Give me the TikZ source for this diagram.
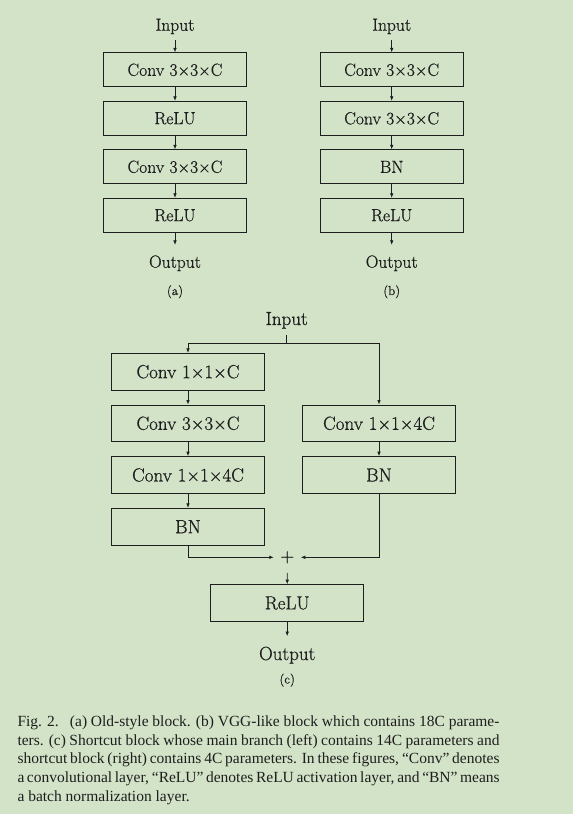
\documentclass[tikz,border=0pt]{standalone}
\usepackage{fontspec}
\newfontfamily\capfont{Liberation Serif}
\newfontfamily\dfont[FakeBold=0.7]{Latin Modern Roman}
\usetikzlibrary{arrows.meta}
\definecolor{bg}{HTML}{D3E3C8}
\definecolor{ink}{HTML}{1E1E1E}
\newcommand{\fsz}[1]{\dfont\fontsize{#1}{#1}\selectfont}
\begin{document}
\begin{tikzpicture}[x=1pt,y=-1pt,
  box/.style={draw=ink,line width=0.9pt,minimum width=143.4pt,minimum height=34pt,inner sep=0pt,font=\fsz{17.5},text=ink},
  cbox/.style={box,minimum width=152.7pt,minimum height=36.7pt,font=\fsz{19}},
  inlbl/.style={anchor=base,inner xsep=0pt,inner ysep=6pt,text=ink},
  outlbl/.style={anchor=base,inner xsep=0pt,inner ysep=10.4pt,text=ink},
  sublbl/.style={anchor=base,inner sep=0pt,text=ink,font=\fsz{13}},
  conn/.style={draw=ink,line width=0.7pt},
  arr/.style={conn,-{Latex[length=4.5pt,width=3.6pt]}}]
\fill[bg] (0,0) rectangle (573,814);
\useasboundingbox (0,0) rectangle (573,814);
% (a)
\node[inlbl,font=\fsz{17.5}] (ia) at (175,30.7) {Input};
\node[box] (a1) at (175,69.8) {Conv 3×3×C};
\node[box] (a2) at (175,118.3) {ReLU};
\node[box] (a3) at (175,166.8) {Conv 3×3×C};
\node[box] (a4) at (175,215.3) {ReLU};
\node[outlbl,font=\fsz{17.5}] (oa) at (175,267.7) {Output};
\node[sublbl] (la) at (175,295) {(a)};
\draw[arr] (ia) -- (a1);
\draw[arr] (a1) -- (a2);
\draw[arr] (a2) -- (a3);
\draw[arr] (a3) -- (a4);
\draw[arr] (a4) -- (oa);
% (b)
\node[inlbl,font=\fsz{17.5}] (ib) at (391.7,30.7) {Input};
\node[box] (b1) at (391.7,69.8) {Conv 3×3×C};
\node[box] (b2) at (391.7,118.3) {Conv 3×3×C};
\node[box] (b3) at (391.7,166.8) {BN};
\node[box] (b4) at (391.7,215.3) {ReLU};
\node[outlbl,font=\fsz{17.5}] (ob) at (391.7,267.7) {Output};
\node[sublbl] (lb) at (391.7,295) {(b)};
\draw[arr] (ib) -- (b1);
\draw[arr] (b1) -- (b2);
\draw[arr] (b2) -- (b3);
\draw[arr] (b3) -- (b4);
\draw[arr] (b4) -- (ob);
% (c)
\node[inlbl,font=\fsz{19}] (ic) at (286.7,325) {Input};
\coordinate (split) at (286.7,343.3);
\node[cbox] (c1) at (188,371.7) {Conv 1×1×C};
\node[cbox] (c2) at (188,423.3) {Conv 3×3×C};
\node[cbox] (c3) at (188,475) {Conv 1×1×4C};
\node[cbox] (c4) at (188,526.7) {BN};
\node[cbox] (r1) at (379,423.3) {Conv 1×1×4C};
\node[cbox] (r2) at (379,475) {BN};
\node[inner xsep=6.5pt,inner ysep=9.5pt,text=ink,font=\fsz{19}] (plus) at (287.3,557.3) {+};
\node[cbox] (relu) at (287.2,603) {ReLU};
\node[outlbl,font=\fsz{19}] (oc) at (287.2,660) {Output};
\node[sublbl] (lc) at (287.2,683.4) {(c)};
\draw[conn] (ic) -- (split);
\draw[arr] (split) -| (c1);
\draw[arr] (split) -| (r1);
\draw[arr] (c1) -- (c2);
\draw[arr] (c2) -- (c3);
\draw[arr] (c3) -- (c4);
\draw[arr] (r1) -- (r2);
\draw[arr] (c4) |- (plus);
\draw[arr] (r2) |- (plus);
\draw[arr] (plus) -- (relu);
\draw[arr] (relu) -- (oc);
% caption
\node[anchor=north west,inner sep=0pt,align=left,text=ink,font=\capfont\fontsize{15.5}{18.7}\selectfont] (cap) at (17.3,715.5)
{\hbox to 482pt{Fig. 2.\hspace{6pt} (a) Old-style block. (b) VGG-like block which contains 18C parame-}\\
\hbox to 482pt{ters. (c) Shortcut block whose main branch (left) contains 14C parameters and}\\
\hbox to 482pt{shortcut block (right) contains 4C parameters. In these figures, “Conv” denotes}\\
\hbox to 482pt{a convolutional layer, “ReLU” denotes ReLU activation layer, and “BN” means}\\
a batch normalization layer.};
\end{tikzpicture}
\end{document}
